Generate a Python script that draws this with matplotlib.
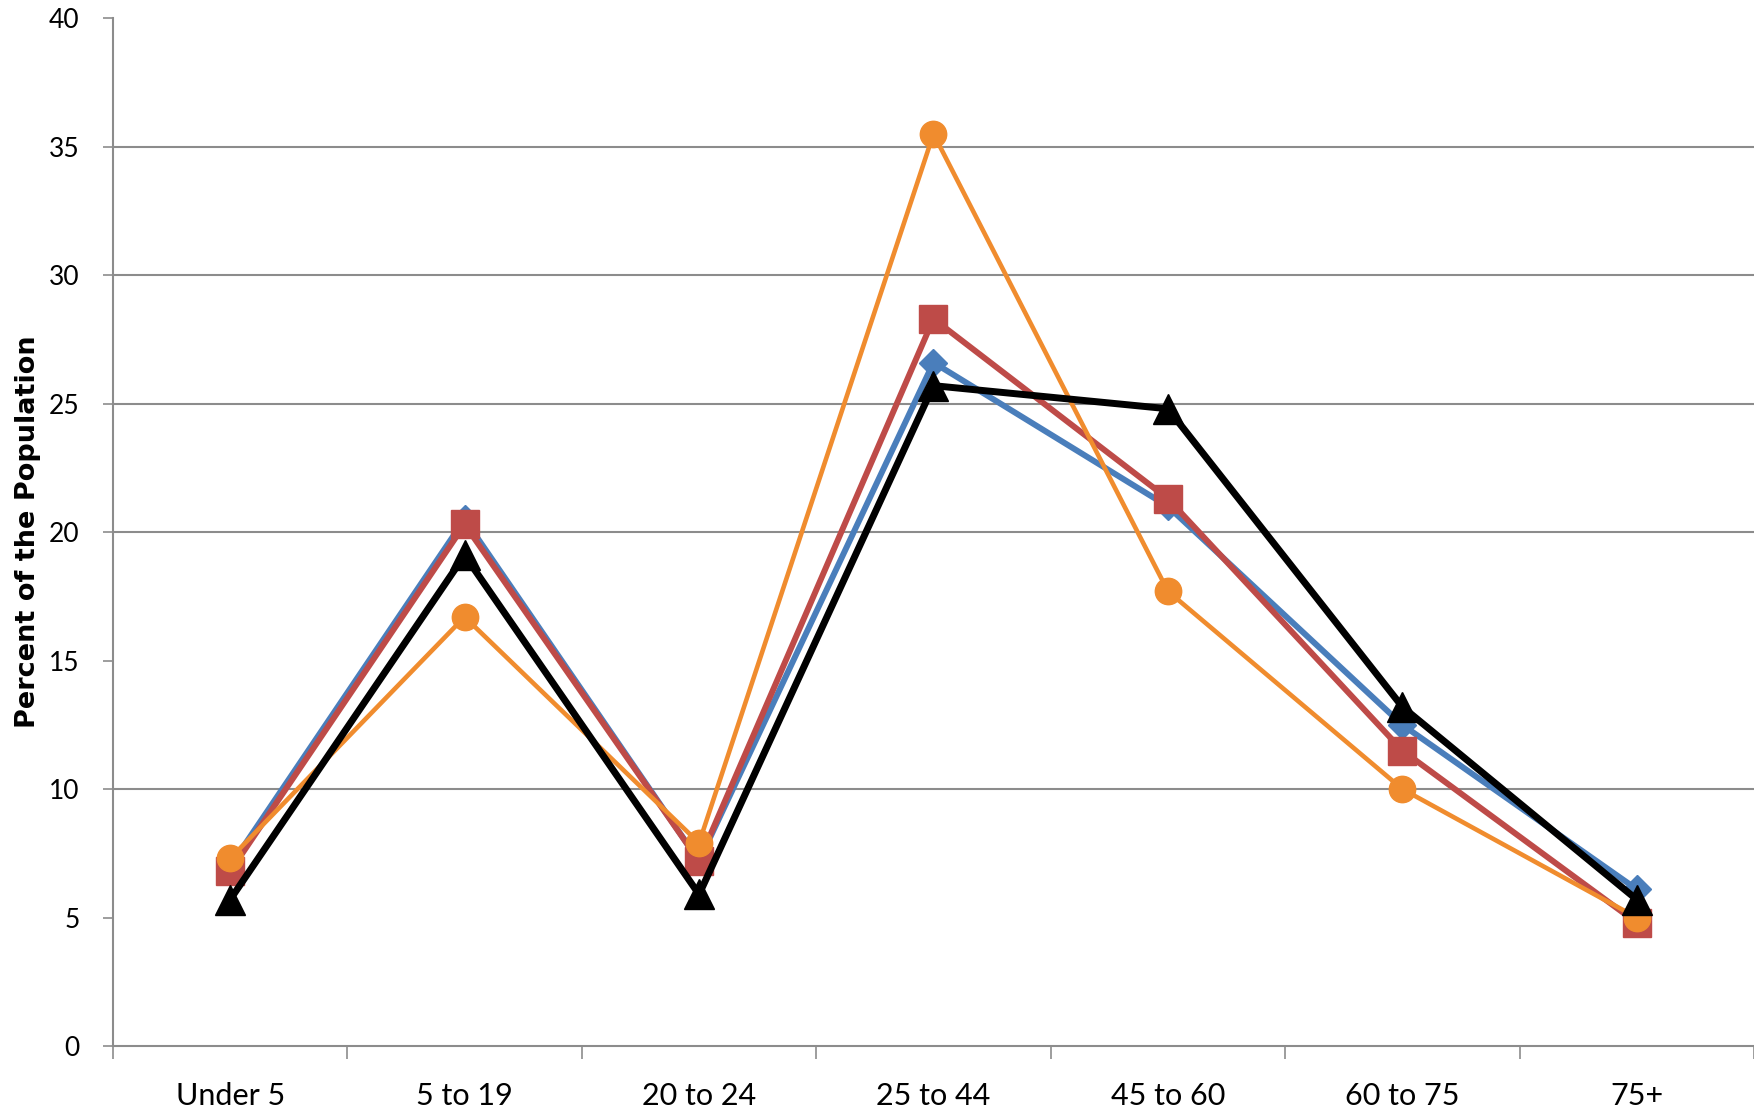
import matplotlib
matplotlib.use("Agg")
import matplotlib.pyplot as plt
from matplotlib.ticker import FixedLocator

categories = ["Under 5", "5 to 19", "20 to 24", "25 to 44", "45 to 60", "60 to 75", "75+"]
blue_vals = [7.0, 20.5, 7.2, 26.6, 21.0, 12.5, 6.1]
red_vals = [6.8, 20.3, 7.2, 28.3, 21.3, 11.5, 4.8]
orange_vals = [7.3, 16.7, 7.9, 35.5, 17.7, 10.0, 5.0]
black_vals = [5.7, 19.1, 5.9, 25.7, 24.8, 13.2, 5.7]
grid_levels = [10, 20, 25, 30, 35]
y_ticks = [0, 5, 10, 15, 20, 25, 30, 35, 40]

plt.rcParams['font.family'] = ['Lato', 'DejaVu Sans']

fig = plt.figure(figsize=(17.54, 11.16), dpi=100)
ax = fig.add_axes([0.0644, 0.0627, 0.9356, 0.921])

x = list(range(len(categories)))
ax.plot(x, blue_vals, color="#4a7ebb", lw=4.3, marker="D", ms=14, zorder=3)
ax.plot(x, red_vals, color="#be4b48", lw=4.3, marker="s", ms=20, zorder=4)
ax.plot(x, orange_vals, color="#f08c2e", lw=3.3, marker="o", ms=19, zorder=5)
ax.plot(x, black_vals, color="black", lw=5.0, marker="^", ms=21, zorder=6)

for g in grid_levels:
    ax.axhline(g, color="#8c8c8c", lw=1.5, zorder=1)

ax.set_xlim(-0.5, len(categories) - 0.5)
ax.set_ylim(0, 40)
ax.set_yticks(y_ticks)
ax.set_xticks(x)
ax.set_xticklabels(categories, fontsize=22)
ax.xaxis.set_minor_locator(FixedLocator([i + 0.5 for i in range(-1, len(categories))]))
ax.tick_params(axis="x", which="major", length=0, pad=26)
ax.tick_params(axis="x", which="minor", length=9, width=1.2, color="#8c8c8c")
ax.tick_params(axis="y", length=7, width=1.2, color="#8c8c8c", labelsize=19, pad=17)

for side in ["top", "right"]:
    ax.spines[side].set_visible(False)
for side in ["left", "bottom"]:
    ax.spines[side].set_color("#8c8c8c")
    ax.spines[side].set_linewidth(1.5)

ax.set_ylabel("Percent of the Population", fontsize=19.5, fontweight="bold",
              family=["DejaVu Sans"], labelpad=6)

fig.savefig("out.png", dpi=100, facecolor="white")
